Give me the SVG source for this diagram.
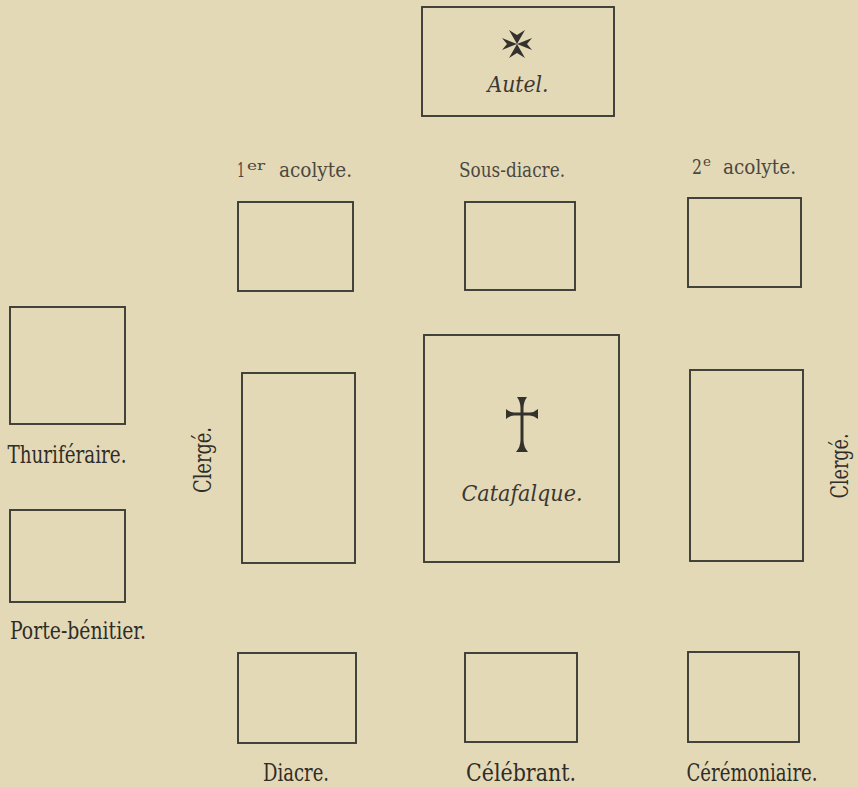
<svg xmlns="http://www.w3.org/2000/svg" width="858" height="787" viewBox="0 0 858 787">
<style>
.bg{fill:#e4d9b7}
.box{fill:none;stroke:#3b3a35;stroke-width:1.9}
.lbl{font-family:"DejaVu Serif Condensed","DejaVu Serif","Liberation Serif",serif;font-size:24px;fill:#2f2d28;text-anchor:middle}
.top{font-family:"DejaVu Serif Condensed","DejaVu Serif","Liberation Serif",serif;font-size:20px;fill:#4a4840}
.sup{font-size:13px}
.it{font-family:"DejaVu Serif Condensed","DejaVu Serif","Liberation Serif",serif;font-style:italic;font-size:22px;fill:#3a3832;text-anchor:middle}
.sym{fill:#34322d}
</style>
<rect class="bg" x="0" y="0" width="858" height="787"/>
<g id="autel">
<rect class="box" x="422" y="7" width="192" height="109"/>
<path class="sym" d="M517,44 L509,30 L517,35 L525,30 Z M517,44 L502,38 L507,44 L502,50 Z M517,44 L532,38 L527,44 L532,50 Z M517,44 L509,58 L517,53 L525,58 Z"/>
<text class="it" x="518" y="92" textLength="61" lengthAdjust="spacingAndGlyphs">Autel.</text>
</g>
<g id="acolyte1">
<text class="top" x="237" y="177" textLength="8" lengthAdjust="spacingAndGlyphs">1</text>
<text class="top sup" x="247" y="170" textLength="18" lengthAdjust="spacingAndGlyphs">er</text>
<text class="top" x="279" y="177" textLength="73" lengthAdjust="spacingAndGlyphs">acolyte.</text>
<rect class="box" x="238" y="202" width="115" height="89"/>
</g>
<g id="sous-diacre">
<text class="top" x="459" y="177" textLength="106" lengthAdjust="spacingAndGlyphs">Sous-diacre.</text>
<rect class="box" x="465" y="202" width="110" height="88"/>
</g>
<g id="acolyte2">
<text class="top" x="692" y="174" textLength="10" lengthAdjust="spacingAndGlyphs">2</text>
<text class="top sup" x="703" y="166" textLength="8" lengthAdjust="spacingAndGlyphs">e</text>
<text class="top" x="723" y="174" textLength="73" lengthAdjust="spacingAndGlyphs">acolyte.</text>
<rect class="box" x="688" y="198" width="113" height="89"/>
</g>
<g id="thuriferaire">
<rect class="box" x="10" y="307" width="115" height="117"/>
<text class="lbl" x="67" y="463" textLength="119" lengthAdjust="spacingAndGlyphs">Thuriféraire.</text>
</g>
<g id="porte-benitier">
<rect class="box" x="10" y="510" width="115" height="92"/>
<text class="lbl" x="78" y="639" textLength="136" lengthAdjust="spacingAndGlyphs">Porte-bénitier.</text>
</g>
<g id="clerge-gauche">
<rect class="box" x="242" y="373" width="113" height="190"/>
<text class="lbl" transform="translate(211,460) rotate(-90)" x="0" y="0" textLength="66" lengthAdjust="spacingAndGlyphs">Clergé.</text>
</g>
<g id="catafalque">
<rect class="box" x="424" y="335" width="195" height="227"/>
<path class="sym" d="M517,397 L527,397 Q523.5,402 523.5,408 L523.5,412.5 L530,412.5 Q534,412.5 538,409 L538,419 Q534,415.5 530,415.5 L523.5,415.5 L523.5,440 Q523.5,447 528,452 L516,452 Q520.5,447 520.5,440 L520.5,415.5 L514,415.5 Q510,415.5 506,419 L506,409 Q510,412.5 514,412.5 L520.5,412.5 L520.5,408 Q520.5,402 517,397 Z"/>
<text class="it" x="522" y="501" textLength="121" lengthAdjust="spacingAndGlyphs">Catafalque.</text>
</g>
<g id="clerge-droite">
<rect class="box" x="690" y="370" width="113" height="191"/>
<text class="lbl" transform="translate(848,466) rotate(-90)" x="0" y="0" textLength="65" lengthAdjust="spacingAndGlyphs">Clergé.</text>
</g>
<g id="diacre">
<rect class="box" x="238" y="653" width="118" height="90"/>
<text class="lbl" x="296" y="781" textLength="66" lengthAdjust="spacingAndGlyphs">Diacre.</text>
</g>
<g id="celebrant">
<rect class="box" x="465" y="653" width="112" height="89"/>
<text class="lbl" x="521" y="781" textLength="110" lengthAdjust="spacingAndGlyphs">Célébrant.</text>
</g>
<g id="ceremoniaire">
<rect class="box" x="688" y="652" width="111" height="90"/>
<text class="lbl" x="752" y="781" textLength="131" lengthAdjust="spacingAndGlyphs">Cérémoniaire.</text>
</g>
<g id="connectors"></g>
</svg>
